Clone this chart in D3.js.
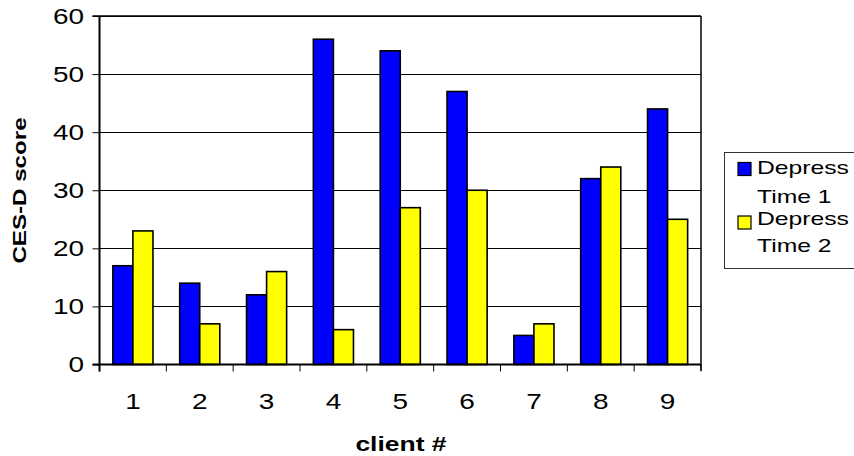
<!DOCTYPE html>
<html>
<head>
<meta charset="utf-8">
<script src="https://cdn.jsdelivr.net/npm/d3@7"></script>
<style>
  html, body { margin: 0; padding: 0; background: #fff; }
  svg { display: block; font-family: Arial, "Liberation Sans", sans-serif; }
</style>
</head>
<body>
<svg id="chart" width="854" height="456"></svg>
<script>
// CES-D depression scores per client, at two time points
const clients = ["1", "2", "3", "4", "5", "6", "7", "8", "9"];
const depressTime1 = [17, 14, 12, 56, 54, 47, 5, 32, 44];
const depressTime2 = [23, 7, 16, 6, 27, 30, 7, 34, 25];
const seriesNames = [["Depress", "Time 1"], ["Depress", "Time 2"]];
const seriesColors = ["#0000ff", "#ffff00"];
const yTicks = [0, 10, 20, 30, 40, 50, 60];

const svg = d3.select("#chart");
const plot = { left: 99.5, right: 701, top: 16, bottom: 364.5 };

const x0 = d3.scaleBand().domain(clients)
  .range([plot.left, plot.right]).paddingInner(0.4).paddingOuter(0.2);
const x1 = d3.scaleBand().domain([0, 1]).range([0, x0.bandwidth()]);
const y = d3.scaleLinear().domain([0, 60]).range([plot.bottom, plot.top]);

// text drawn wider than its natural length
function label(g, txt, size, weight, stretch) {
  const t = g.append("text").text(txt)
    .attr("font-size", size).attr("font-weight", weight || "normal").attr("fill", "#000");
  const w = t.node().getComputedTextLength();
  t.attr("textLength", w * (stretch || 1.3)).attr("lengthAdjust", "spacingAndGlyphs");
  return t;
}

// horizontal gridlines
svg.append("g").selectAll("line").data(yTicks.filter(d => d > 0)).join("line")
  .attr("x1", plot.left).attr("x2", plot.right)
  .attr("y1", d => Math.round(y(d)) + 0.5).attr("y2", d => Math.round(y(d)) + 0.5)
  .attr("stroke", "#000").attr("stroke-width", 1);

// right border
svg.append("line")
  .attr("x1", plot.right).attr("x2", plot.right)
  .attr("y1", plot.top).attr("y2", plot.bottom + 6)
  .attr("stroke", "#000").attr("stroke-width", 1.5);

// bars
const rows = clients.map((c, i) => ({ c, v: [depressTime1[i], depressTime2[i]] }));
svg.append("g").selectAll("g").data(rows).join("g")
  .attr("transform", d => `translate(${x0(d.c)},0)`)
  .selectAll("rect").data(d => d.v.map((v, k) => ({ v, k }))).join("rect")
  .attr("x", d => x1(d.k)).attr("width", x1.bandwidth())
  .attr("y", d => y(d.v)).attr("height", d => y(0) - y(d.v))
  .attr("fill", d => seriesColors[d.k])
  .attr("stroke", "#000").attr("stroke-width", 1.6);

// y axis
const yAxis = d3.axisLeft(y).tickValues(yTicks).tickSize(7).tickFormat("");
const yg = svg.append("g").attr("transform", `translate(${plot.left},0)`).call(yAxis);
yg.select(".domain").remove();
yg.selectAll(".tick line").attr("stroke", "#000").attr("stroke-width", 1);
svg.append("line").attr("x1", plot.left).attr("x2", plot.left)
  .attr("y1", plot.top).attr("y2", plot.bottom + 7)
  .attr("stroke", "#000").attr("stroke-width", 2);
yTicks.forEach(v => {
  const g = svg.append("g").attr("transform", `translate(84,${y(v) + 7.5})`);
  label(g, String(v), 21.5, "normal", 1.3).attr("text-anchor", "end");
});

// x axis: ticks on category boundaries
const step = x0.step();
const bounds = clients.map(c => x0(c) - x0.paddingOuter() * step).concat([plot.right]);
svg.append("g").selectAll("line").data(bounds).join("line")
  .attr("x1", d => d).attr("x2", d => d)
  .attr("y1", plot.bottom).attr("y2", plot.bottom + 7)
  .attr("stroke", "#000").attr("stroke-width", 1);
svg.append("line").attr("x1", plot.left - 7).attr("x2", plot.right)
  .attr("y1", plot.bottom).attr("y2", plot.bottom)
  .attr("stroke", "#000").attr("stroke-width", 2);
svg.append("line").attr("x1", plot.left - 7).attr("x2", plot.right)
  .attr("y1", plot.top).attr("y2", plot.top)
  .attr("stroke", "#000").attr("stroke-width", 1.5);
clients.forEach(c => {
  const g = svg.append("g").attr("transform", `translate(${x0(c) + x0.bandwidth() / 2},408.5)`);
  label(g, c, 21.5, "normal", 1.3).attr("text-anchor", "middle");
});

// axis titles
label(svg.append("g").attr("transform", "translate(401,451)"), "client #", 21, "bold", 1.26)
  .attr("text-anchor", "middle");
label(svg.append("g").attr("transform", "translate(26,190.5) rotate(-90)"), "CES-D score", 19, "bold", 1.27)
  .attr("text-anchor", "middle");

// legend
const lg = svg.append("g");
lg.append("rect").attr("x", 724.5).attr("y", 152.5).attr("width", 160).attr("height", 116)
  .attr("fill", "#fff").attr("stroke", "#333").attr("stroke-width", 1);
const entryY = [162.5, 216];
const baseY = [[174, 203], [225, 252]];
seriesNames.forEach((lines, k) => {
  lg.append("rect").attr("x", 738).attr("y", entryY[k]).attr("width", 13).attr("height", 13)
    .attr("fill", seriesColors[k]).attr("stroke", "#000").attr("stroke-width", 1.2);
  lines.forEach((ln, j) => {
    const g = lg.append("g").attr("transform", `translate(757,${baseY[k][j]})`);
    label(g, ln, 19, "normal", 1.3);
  });
});
</script>
</body>
</html>
